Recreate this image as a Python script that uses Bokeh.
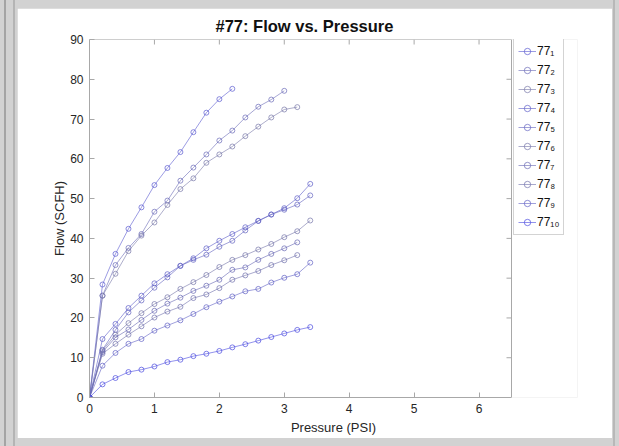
import math
from bokeh.plotting import figure
from bokeh.models import Range1d, Legend, LegendItem, FixedTicker
from bokeh.embed import file_html
from bokeh.resources import INLINE

# ---- data ----
pressure = [0, 0.2, 0.4, 0.6, 0.8, 1.0, 1.2, 1.4, 1.6, 1.8, 2.0, 2.2, 2.4, 2.6, 2.8, 3.0, 3.2, 3.4]

flow_1 = [0, 28.4, 36.1, 42.4, 47.8, 53.4, 57.7, 61.7, 66.7, 71.6, 75.0, 77.6]
flow_2 = [0, 25.6, 33.3, 37.6, 41.1, 46.7, 49.5, 54.5, 57.8, 61.1, 64.6, 67.1, 70.4, 73.1, 74.9, 77.1]
flow_3 = [0, 25.6, 31.1, 36.8, 40.7, 44.0, 48.4, 52.4, 55.1, 59.0, 61.1, 63.1, 65.7, 68.1, 70.4, 72.4, 73.0]
flow_4 = [0, 14.7, 18.5, 22.5, 25.6, 28.7, 31.0, 33.1, 35.0, 37.5, 39.4, 41.1, 42.8, 44.4, 46.0, 47.6, 50.1, 53.7]
flow_5 = [0, 12.0, 17.0, 21.4, 24.4, 27.6, 30.2, 33.1, 34.6, 35.9, 37.9, 39.4, 42.0, 44.4, 46.0, 47.2, 48.5, 50.8]
flow_6 = [0, 11.8, 15.8, 18.7, 21.2, 23.5, 25.2, 27.3, 29.0, 30.8, 32.8, 34.6, 35.8, 37.2, 38.6, 40.3, 41.8, 44.5]
flow_7 = [0, 11.4, 15.1, 17.1, 19.5, 21.8, 23.6, 25.1, 26.8, 28.1, 29.6, 32.1, 32.7, 34.6, 36.1, 37.5, 39.0]
flow_8 = [0, 11.0, 13.5, 15.8, 17.9, 20.1, 21.6, 22.8, 25.0, 25.9, 27.5, 29.6, 30.7, 31.8, 33.3, 34.5, 35.8]
flow_9 = [0, 8.0, 11.2, 13.5, 14.7, 16.8, 18.1, 19.4, 21.0, 22.7, 24.1, 25.4, 26.7, 27.3, 28.9, 30.1, 31.0, 33.9]
flow_10 = [0, 3.3, 4.9, 6.4, 7.0, 7.8, 8.9, 9.5, 10.4, 11.0, 11.7, 12.6, 13.4, 14.3, 15.2, 16.1, 17.0, 17.7]

series = [flow_1, flow_2, flow_3, flow_4, flow_5, flow_6, flow_7, flow_8, flow_9, flow_10]
labels = ["77\u2081", "77\u2082", "77\u2083", "77\u2084", "77\u2085",
          "77\u2086", "77\u2087", "77\u2088", "77\u2089", "77\u2081\u2080"]
colors = ["#5a5ad0", "#6a6ab8", "#7878a8", "#5c5cc8", "#6262c0",
          "#7474a8", "#6868b4", "#7070ac", "#6060c4", "#4a4ae0"]

x_ticks = [0, 1, 2, 3, 4, 5, 6]
y_ticks = [0, 10, 20, 30, 40, 50, 60, 70, 80, 90]
X_MIN, X_MAX = 0, 6.5
Y_MIN, Y_MAX = 0, 90

FONT = "Liberation Sans"
AXC = "#a8a8a8"

# geometry (pixels inside the figure)
W, H = 595, 430
LEFT, TOP, BOTTOM = 72, 31, 41
AX_W = 422                 # width of the drawn axes box
FRAME_W = 488              # frame extended to hold the legend
x_end = X_MAX * FRAME_W / AX_W

p = figure(width=W, height=H, output_backend="svg", toolbar_location=None,
           x_range=Range1d(X_MIN, x_end), y_range=Range1d(Y_MIN, Y_MAX),
           min_border_left=LEFT, min_border_right=W - LEFT - FRAME_W,
           min_border_top=TOP, min_border_bottom=BOTTOM,
           background_fill_color="white", border_fill_color="white")

p.title.text = "#77: Flow vs. Pressure"
p.title.align = "left"
p.title.offset = 126
p.title.text_font = FONT
p.title.text_font_size = "16.5px"
p.title.text_font_style = "bold"
p.title.text_color = "#111111"

p.xgrid.visible = False
p.ygrid.visible = False
p.outline_line_color = None

for ax in (p.xaxis[0], p.yaxis[0]):
    ax.axis_line_color = AXC
    ax.major_tick_line_color = AXC
    ax.major_tick_in = 5
    ax.major_tick_out = 0
    ax.minor_tick_line_color = None
    ax.major_label_text_font = FONT
    ax.major_label_text_font_size = "12px"
    ax.major_label_text_color = "#262626"
    ax.axis_label_text_font = FONT
    ax.axis_label_text_font_size = "13px"
    ax.axis_label_text_font_style = "normal"
    ax.axis_label_text_color = "#262626"

p.xaxis[0].ticker = FixedTicker(ticks=x_ticks)
p.yaxis[0].ticker = FixedTicker(ticks=y_ticks)
p.xaxis[0].bounds = (X_MIN, X_MAX)
p.xaxis[0].axis_label = "Pressure (PSI)"
p.yaxis[0].axis_label = "Flow (SCFH)"
p.xaxis[0].major_label_standoff = 6
p.yaxis[0].major_label_standoff = 6
p.xaxis[0].axis_label_standoff = 4
p.yaxis[0].axis_label_standoff = 0

# top and right edges of the axes box
p.segment(x0=[X_MIN, X_MAX], y0=[Y_MAX, Y_MIN], x1=[X_MAX, X_MAX], y1=[Y_MAX, Y_MAX],
          line_color=AXC, line_width=1)
# inward ticks on the top and right edges (5 px long)
p.ray(x=x_ticks[1:], y=[Y_MAX] * (len(x_ticks) - 1), length=5, length_units="screen",
      angle=-math.pi / 2, line_color=AXC)
p.ray(x=[X_MAX] * (len(y_ticks) - 2), y=y_ticks[1:-1], length=5, length_units="screen",
      angle=math.pi, line_color=AXC)

items = []
for ys, lab, col in zip(series, labels, colors):
    xs = pressure[:len(ys)]
    lr = p.line(xs, ys, line_color=col, line_width=1, line_alpha=0.6)
    sr = p.scatter(xs, ys, marker="circle", size=5, fill_color=None,
                   line_color=col, line_alpha=0.7, line_width=1)
    items.append(LegendItem(label=lab, renderers=[lr, sr]))

frame_h = H - TOP - BOTTOM
leg_h = 4 * 2 + 16 * 10 + 3 * 9
legend = Legend(items=items, location=(AX_W + 2, frame_h - 1 - leg_h), margin=0,
                padding=4, spacing=3,
                glyph_height=16, glyph_width=18, label_height=16, label_standoff=1,
                label_width=10,
                label_text_font=FONT, label_text_font_size="12px",
                label_text_color="#111111", border_line_color=AXC,
                background_fill_color="white")
p.add_layout(legend)

html = file_html(p, INLINE)
bg = ("linear-gradient(to right, #d2d2d2 0px, #d2d2d2 4px, #a4a4a4 4px, #a4a4a4 6px, "
      "#d2d2d2 6px, #d2d2d2 13px, #b4b4b4 13px, #b4b4b4 15px, #d2d2d2 15px, "
      "#d2d2d2 613px, #b8b8b8 613px, #b8b8b8 615px, #d2d2d2 615px)")
css = ("<style>html{background:" + bg + " !important;}"
       "body{background:transparent !important;margin:0 !important;"
       "padding:8px 0 0 17px !important;box-sizing:border-box;}</style>")
if "</head>" in html:
    html = html.replace("</head>", css + "</head>", 1)
else:
    html = css + html
open("out.html", "w").write(html)
